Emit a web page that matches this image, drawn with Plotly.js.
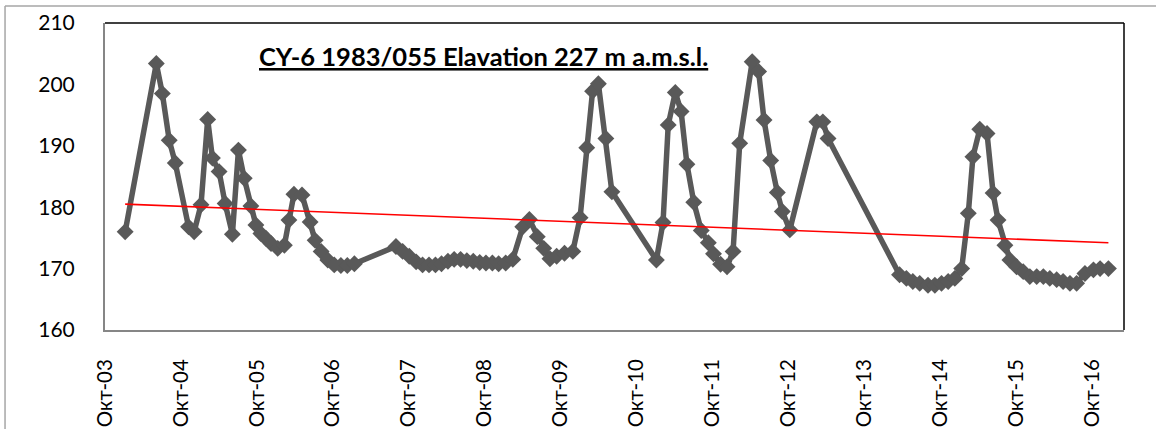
<!DOCTYPE html>
<html>
<head>
<meta charset="utf-8">
<script src="https://cdn.plot.ly/plotly-3.0.1.min.js"></script>
<style>html,body{margin:0;padding:0;background:#fff;}#chart{width:1156px;height:429px;}</style>
</head>
<body>
<div id="chart"></div>
<script>
const dates = [
 '2004-01-06','2004-06-04','2004-07-03','2004-08-05','2004-09-03','2004-11-06','2004-12-03',
 '2005-01-05','2005-02-06','2005-03-01','2005-04-02','2005-05-01','2005-06-05','2005-07-04','2005-08-01','2005-09-02','2005-09-26','2005-10-20','2005-11-14','2005-12-08',
 '2006-01-09','2006-02-10','2006-03-04','2006-03-28','2006-05-06','2006-06-14','2006-07-08','2006-08-06','2006-09-07','2006-10-08','2006-11-09','2006-12-10',
 '2007-01-13','2007-08-01','2007-09-02','2007-10-04','2007-11-06','2007-12-07',
 '2008-01-07','2008-02-07','2008-03-07','2008-04-07','2008-05-07','2008-06-07','2008-07-07','2008-08-07','2008-09-07','2008-10-07','2008-11-07','2008-12-07',
 '2009-01-10','2009-02-13','2009-04-02','2009-05-04','2009-06-11','2009-07-12','2009-08-11','2009-09-12','2009-10-20','2009-11-29',
 '2010-01-03','2010-02-04','2010-03-04','2010-04-01','2010-05-07','2010-06-05',
 '2011-01-05','2011-02-06','2011-03-03','2011-04-06','2011-05-04','2011-06-01','2011-07-04','2011-08-09','2011-09-12','2011-10-07','2011-11-10','2011-12-11',
 '2012-01-09','2012-02-10','2012-04-10','2012-05-11','2012-06-06','2012-07-08','2012-08-09','2012-09-02','2012-10-08',
 '2013-02-15','2013-03-16','2013-04-10',
 '2014-03-20','2014-04-22','2014-05-23','2014-06-25','2014-08-04','2014-09-06','2014-10-08','2014-11-09','2014-12-11',
 '2015-01-13','2015-02-14','2015-03-08','2015-04-10','2015-05-15','2015-06-13','2015-07-07','2015-08-09','2015-09-02','2015-10-04','2015-11-05','2015-12-07',
 '2016-01-09','2016-02-10','2016-03-12','2016-04-14','2016-05-15','2016-06-17','2016-07-19','2016-08-28','2016-10-08','2016-11-09','2016-12-19'
];
// Water level (m a.m.s.l.)
const levels = [
 176.0,203.4,198.5,190.9,187.2,176.8,176.0,
 180.4,194.3,188.0,185.8,180.6,175.6,189.3,184.7,180.2,177.1,175.7,174.9,174.1,
 173.3,173.8,177.9,182.1,182.0,177.6,174.6,172.8,171.4,170.6,170.5,170.5,
 170.8,173.6,172.8,172.0,171.1,170.6,
 170.6,170.6,170.8,171.2,171.5,171.5,171.3,171.2,171.0,170.9,170.9,170.8,
 170.9,171.5,176.8,178.0,175.2,173.3,171.6,172.0,172.5,172.8,
 178.3,189.7,198.9,200.1,191.2,182.5,
 171.4,177.5,193.4,198.7,195.6,187.0,180.8,176.2,174.2,172.4,170.7,170.3,
 172.8,190.4,203.7,202.1,194.2,187.6,182.4,179.3,176.3,
 193.9,193.9,191.2,
 169.0,168.4,167.9,167.6,167.3,167.3,167.6,167.9,168.4,
 170.0,179.0,188.2,192.7,192.0,182.3,177.9,173.8,171.4,170.3,169.5,168.7,
 168.7,168.7,168.4,168.2,167.9,167.6,167.6,169.2,169.8,170.0,170.0
];
// Linear trend line end points
const trendDates = ['2004-01-06','2016-12-19'];
const trendValues = [180.5, 174.2];

const tickDates = ['2003-10-01','2004-10-01','2005-10-01','2006-10-01','2007-10-01','2008-10-01','2009-10-01','2010-10-01','2011-10-01','2012-10-01','2013-10-01','2014-10-01','2015-10-01','2016-10-01'];
const tickLabels = ['Окт-03','Окт-04','Окт-05','Окт-06','Окт-07','Окт-08','Окт-09','Окт-10','Окт-11','Окт-12','Окт-13','Окт-14','Окт-15','Окт-16'];
const titleText = 'CY-6 1983/055 Elavation 227 m a.m.s.l.';

const FONT = 'Lato, "Open Sans", "DejaVu Sans", sans-serif';

const traces = [
 {x: dates, y: levels, type: 'scatter', mode: 'lines+markers',
  line: {color: '#595959', width: 5.5},
  marker: {symbol: 'diamond', size: 13, color: '#595959'},
  hoverinfo: 'x+y'},
 {x: trendDates, y: trendValues, type: 'scatter', mode: 'lines',
  line: {color: '#ff0000', width: 1.6}, hoverinfo: 'skip'}
];

const layout = {
 width: 1156, height: 429,
 margin: {l: 105, r: 32, t: 23, b: 99, pad: 0},
 paper_bgcolor: '#ffffff', plot_bgcolor: '#ffffff',
 showlegend: false,
 font: {family: FONT, color: '#000'},
 xaxis: {
  type: 'date', range: ['2003-10-01', '2017-03-04'],
  tickmode: 'array', tickvals: tickDates, ticktext: tickLabels,
  tickangle: -90, tickfont: {family: FONT, size: 20.5, color: '#000'},
  ticks: '', ticklabelstandoff: 19,
  showgrid: false, zeroline: false,
  showline: true, linecolor: '#868686', linewidth: 2
 },
 yaxis: {
  range: [160, 210], dtick: 10, tick0: 160,
  tickfont: {family: FONT, size: 21, color: '#000'},
  ticks: '', ticklabelstandoff: 24,
  showgrid: false, zeroline: false,
  showline: true, linecolor: '#868686', linewidth: 2
 },
 shapes: [
  {type: 'line', xref: 'paper', yref: 'paper', x0: 0, x1: 1, y0: 1, y1: 1, line: {color: '#000', width: 1.5}},
  {type: 'line', xref: 'paper', yref: 'paper', x0: 1, x1: 1, y0: 0, y1: 1, line: {color: '#000', width: 1.5}},
  {type: 'line', xref: 'paper', yref: 'paper', x0: -0.0981, x1: 1.04, y0: 1.0554, y1: 1.0554, line: {color: '#a6a6a6', width: 1.5}},
  {type: 'line', xref: 'paper', yref: 'paper', x0: -0.0981, x1: -0.0981, y0: 1.0554, y1: -0.33, line: {color: '#a6a6a6', width: 1.5}}
 ],
 annotations: [
  {xref: 'paper', yref: 'paper', x: 0.3714, y: 0.893, xanchor: 'center', yanchor: 'middle',
   text: '<b><u>' + titleText + '</u></b>', showarrow: false,
   font: {family: FONT, size: 25.5, color: '#000'}}
 ]
};

Plotly.newPlot('chart', traces, layout, {displayModeBar: false, staticPlot: true});
</script>
</body>
</html>
